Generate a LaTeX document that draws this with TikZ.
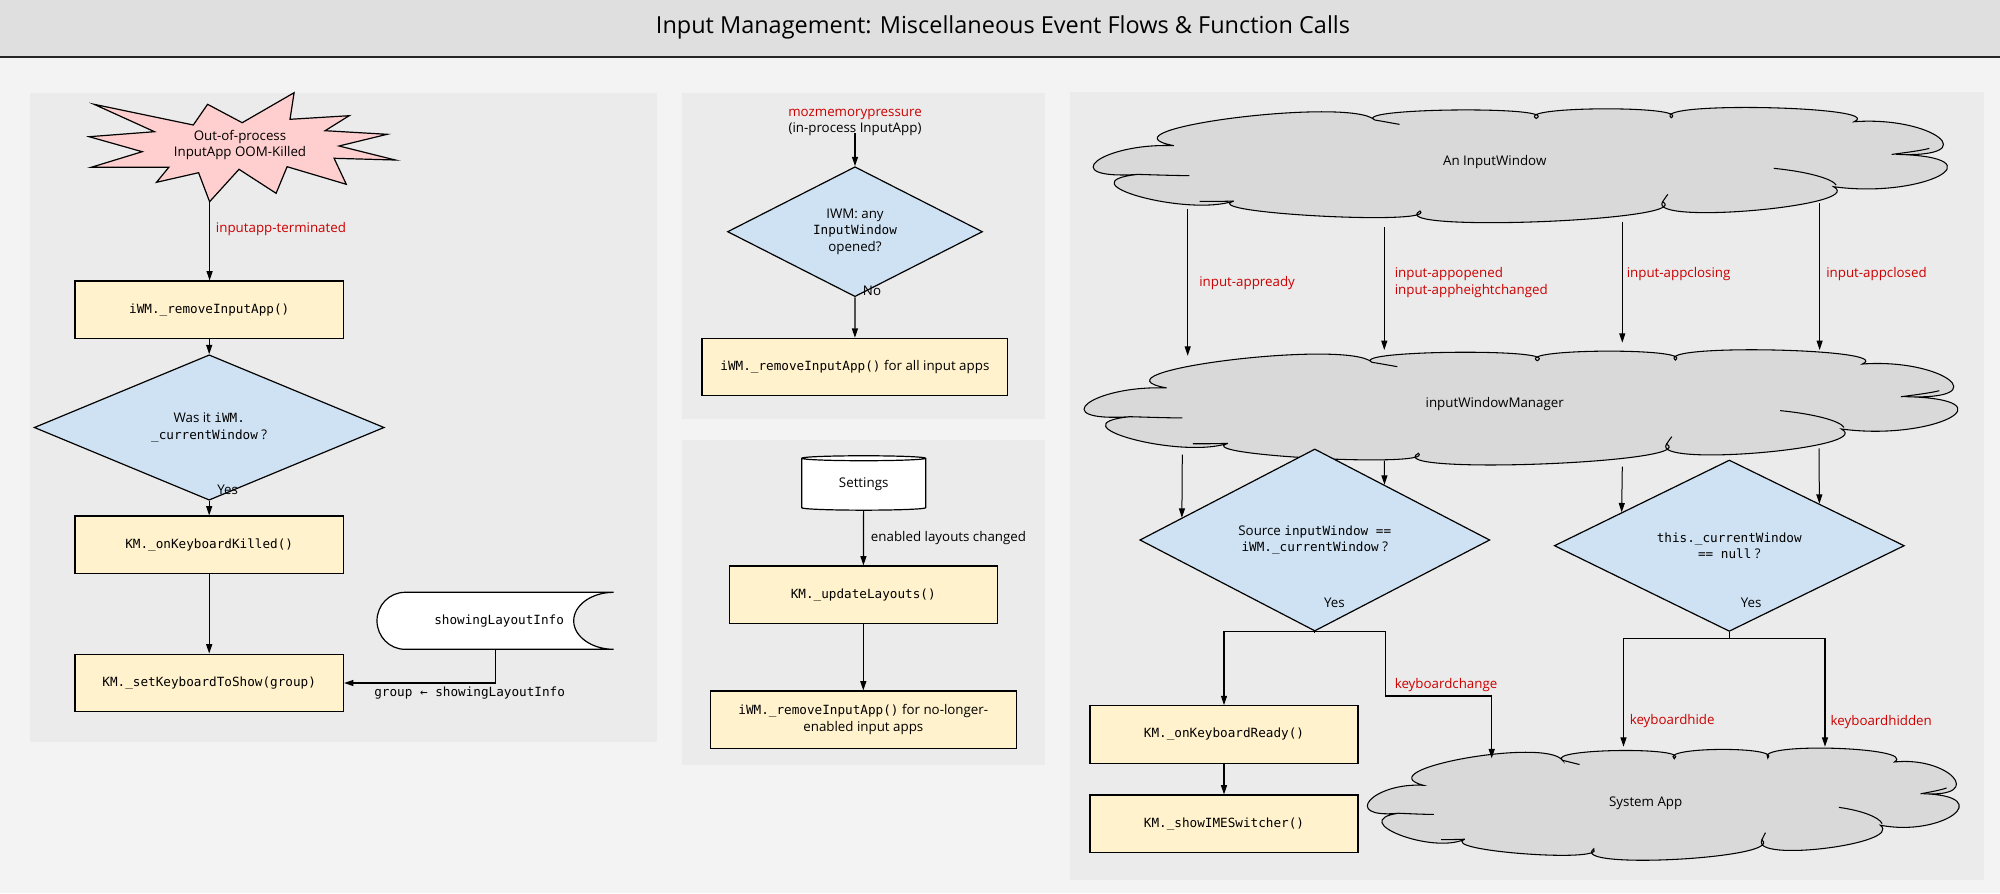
\documentclass[tikz,border=0pt]{standalone}
\usepackage{fontspec}
\setmainfont{Open Sans}
\setmonofont{DejaVu Sans Mono}
\usetikzlibrary{shapes.geometric,arrows.meta,calc}
\definecolor{pagebg}{HTML}{F3F3F3}
\definecolor{titlebg}{HTML}{DFDFDF}
\definecolor{panelbg}{HTML}{EBEBEB}
\definecolor{boxfill}{HTML}{FFF2CC}
\definecolor{decfill}{HTML}{CFE2F3}
\definecolor{starfill}{HTML}{FFCFCF}
\definecolor{cloudfill}{HTML}{D9D9D9}
\definecolor{evred}{HTML}{CC0000}
\newcommand\pxl[1]{#1*0.75pt}
\newcommand\mtt[1]{{\ttfamily\fontsize{9.5}{12}\selectfont #1}}
\newcommand\puff[3]{.. controls ($0.4833*(#1)+1.3333*(#2)-0.8167*(#3)$) and ($0.4833*(#3)+1.3333*(#2)-0.8167*(#1)$) .. (#3)}
\newcommand\cloudshape{(0.090,0.333)
  \puff{0.090,0.333}{0,0.468}{0.048,0.585}
  \puff{0.048,0.585}{0.05,0.78}{0.160,0.819}
  \puff{0.160,0.819}{0.26,0.95}{0.378,0.906}
  \puff{0.378,0.906}{0.518,1.0}{0.662,0.825}
  \puff{0.662,0.825}{0.77,0.90}{0.862,0.693}
  \puff{0.862,0.693}{0.985,0.60}{0.935,0.409}
  \puff{0.935,0.409}{0.985,0.26}{0.886,0.123}
  \puff{0.886,0.123}{0.785,0.0}{0.672,0.088}
  \puff{0.672,0.088}{0.592,0.01}{0.514,0.094}
  \puff{0.514,0.094}{0.42,0.02}{0.325,0.108}
  \puff{0.325,0.108}{0.16,0.09}{0.090,0.333} -- cycle}
\newcommand\cloudinner{(0.048,0.585) .. controls (0.07,0.59) and (0.09,0.595) .. (0.108,0.596)
  (0.792,0.532) .. controls (0.83,0.56) and (0.86,0.62) .. (0.865,0.678)
  (0.93,0.41) .. controls (0.95,0.39) and (0.965,0.375) .. (0.974,0.357)
  (0.325,0.108) .. controls (0.335,0.12) and (0.345,0.135) .. (0.354,0.146)
  (0.662,0.825) .. controls (0.664,0.80) and (0.666,0.78) .. (0.668,0.76)
  (0.160,0.819) .. controls (0.145,0.822) and (0.135,0.823) .. (0.12,0.822)}
\begin{document}
\begin{tikzpicture}[x=0.75pt,y=-0.75pt,
  every node/.style={font=\fontsize{10}{12.5}\selectfont, inner sep=0pt, text=black},
  fnbox/.style={rectangle, draw=black, fill=boxfill, line width=0.9pt, minimum height=\pxl{57.3}, align=center},
  decision/.style={diamond, draw=black, fill=decfill, line width=0.9pt, align=center},
  cloudline/.style={draw=black, fill=cloudfill, line width=0.8pt},
  cloudin/.style={draw=black, line width=0.8pt},
  arr/.style={draw=black, line width=0.9pt, -{Triangle[length=7pt,width=4.5pt]}},
  thinarr/.style={draw=black, line width=0.75pt, -{Triangle[length=7pt,width=4.5pt]}},
  conn/.style={draw=black, line width=0.9pt},
  evlab/.style={text=evred, anchor=west},
  plainlab/.style={anchor=west}]
\useasboundingbox (0,0) rectangle (2000,893);
\fill[pagebg] (0,0) rectangle (2000,893);
% title bar
\fill[titlebg] (0,0) rectangle (2000,57);
\draw[line width=1.2pt, color=black!85] (0,57) -- (2000,57);
\node[font=\fontsize{17.6}{21}\selectfont] (title) at (1003,27) {Input Management: Miscellaneous Event Flows \& Function Calls};
% panels
\fill[panelbg] (30,93) rectangle (657,742);
\fill[panelbg] (682,93) rectangle (1045,419);
\fill[panelbg] (682,440) rectangle (1045,765);
\fill[panelbg] (1070,92) rectangle (1984,880);

% ---------------- left panel
\draw[fill=starfill, line width=0.9pt] (94.1,104.3) -- (193.3,125) -- (207.6,104.3) -- (242.2,122.7) -- (294.1,92.7) -- (290,119.3) -- (349.2,115.7) -- (325.1,130.7) -- (387.1,134.3) -- (339,146) -- (395.3,160) -- (334.1,158.3) -- (346.3,184.3) -- (287.1,166.7) -- (276.1,193.3) -- (239,169.3) -- (209.6,201.7) -- (198.6,172.7) -- (156.5,182.3) -- (168.8,167.3) -- (91.2,167.3) -- (142.2,151.7) -- (89.2,136.7) -- (154.5,131.7) -- cycle;
\node[align=center] (star) at (240,145) {Out-of-process\\InputApp OOM-Killed};
\coordinate (startip) at (209.6,201.7);
\node[fnbox, minimum width=\pxl{268.6}] (r1) at (209.2,309.7) {\mtt{iWM.\_removeInputApp()}};
\draw[arr] (startip) -- (startip |- r1.north);
\node[evlab] (l1) at (215.7,229.3) {inputapp-terminated};
\node[decision, minimum width=\pxl{350}, minimum height=\pxl{98}] (d1) at (209.2,427.5) {Was it \mtt{iWM.}\\\mtt{\_currentWindow} ?};
\draw[arr] (r1) -- (d1);
\node[fnbox, minimum width=\pxl{268.6}] (r2) at (209.2,544.7) {\mtt{KM.\_onKeyboardKilled()}};
\draw[arr] (d1) -- (r2);
\node[plainlab] (y1) at (217,490) {Yes};
\node[fnbox, minimum width=\pxl{268.6}, minimum height=\pxl{57.7}] (r3) at (209.2,683) {\mtt{KM.\_setKeyboardToShow(group)}};
\draw[arr] (r2) -- (r3);
\draw[fill=white, line width=0.9pt] (405,592.3) -- (613.7,592.3) .. controls (591.7,592.3) and (573.7,605) .. (573.7,620.8) .. controls (573.7,636.5) and (591.7,649.3) .. (613.7,649.3) -- (405,649.3) .. controls (389.5,649.3) and (377,636.5) .. (377,620.8) .. controls (377,605) and (389.5,592.3) .. (405,592.3) -- cycle;
\node[minimum width=\pxl{236.7}, minimum height=\pxl{57}] (sli) at (495.3,620.8) {\mtt{\ showingLayoutInfo}};
\draw[arr] (sli.south) |- (r3.east);
\node[anchor=west] (grp) at (374,693.5) {\mtt{group ← showingLayoutInfo}};

% ---------------- middle top panel
\node[align=center] (mz) at (855,122.5) {\textcolor{evred}{mozmemorypressure}\\(in-process InputApp)};
\coordinate (mzs) at (855,133);
\node[decision, minimum width=\pxl{255}, minimum height=\pxl{97}] (dm) at (855,231.7) {IWM: any\\\mtt{InputWindow}\\opened?};
\draw[arr] (mzs) -- (dm.north);
\node[fnbox, minimum width=\pxl{305.7}] (rm1) at (854.9,367) {\mtt{iWM.\_removeInputApp()} for all input apps};
\draw[arr] (dm) -- (rm1);
\node[plainlab] (no) at (862.7,291) {No};

% ---------------- middle bottom panel
\node[cylinder, shape border rotate=90, aspect=0.1, draw=black, fill=white, line width=0.9pt, minimum width=\pxl{124}, minimum height=\pxl{54.4}] (set) at (863.7,484.5) {Settings};
\node[fnbox, minimum width=\pxl{268}] (rm2) at (863.3,594.7) {\mtt{KM.\_updateLayouts()}};
\draw[arr] (set) -- (rm2);
\node[plainlab] (elc) at (870.7,537.7) {enabled layouts changed};
\node[fnbox, minimum width=\pxl{306}] (rm3) at (863.3,719.7) {\mtt{iWM.\_removeInputApp()} for no-longer-\\enabled input apps};
\draw[arr] (rm2) -- (rm3);

% ---------------- right panel: clouds
\begin{scope}[shift={(1097,107.7)}, xscale=854.5, yscale=114]
  \draw[cloudline] \cloudshape;
  \draw[cloudin] \cloudinner;
\end{scope}
\node (c1) at (1494.7,162.3) {An InputWindow};
\begin{scope}[shift={(1088,350)}, xscale=874, yscale=114]
  \draw[cloudline] \cloudshape;
  \draw[cloudin] \cloudinner;
\end{scope}
\node (c2) at (1494.7,404) {inputWindowManager};
\begin{scope}[shift={(1370,748.3)}, xscale=592, yscale=111]
  \draw[cloudline] \cloudshape;
  \draw[cloudin] \cloudinner;
\end{scope}
\node (c3) at (1645.7,803.3) {System App};

\coordinate (a1s) at (1187.7,209.3); \coordinate (a1e) at (1187.7,355.7);
\coordinate (a2s) at (1384.3,227.3); \coordinate (a2e) at (1384.3,350);
\coordinate (a3s) at (1622.3,221.7); \coordinate (a3e) at (1622.3,342.7);
\coordinate (a4s) at (1819.6,203.3); \coordinate (a4e) at (1819.6,350);
\draw[thinarr] (a1s) -- (a1e);
\draw[thinarr] (a2s) -- (a2e);
\draw[thinarr] (a3s) -- (a3e);
\draw[thinarr] (a4s) -- (a4e);
\node[evlab] (e1) at (1199,283.3) {input-appready};
\node[evlab, align=left] (e2) at (1394.5,282.3) {input-appopened\\input-appheightchanged};
\node[evlab] (e3) at (1626.5,274) {input-appclosing};
\node[evlab] (e4) at (1826,274) {input-appclosed};

\node[decision, minimum width=\pxl{350}, minimum height=\pxl{97}] (dA) at (1314.8,540) {Source \mtt{inputWindow ==}\\\mtt{iWM.\_currentWindow} ?};
\node[decision, minimum width=\pxl{350}, minimum height=\pxl{97}] (dB) at (1729.3,545.7) {\mtt{this.\_currentWindow}\\\mtt{== null} ?};
\coordinate (b1s) at (1182.3,454.7); \coordinate (b2s) at (1384.3,460.7);
\coordinate (b3s) at (1622.3,466.7); \coordinate (b4s) at (1819,448.3);
\draw[thinarr] (b1s) -- ($(dA.west)!0.243!(dA.north)$);
\draw[thinarr] (b2s) -- ($(dA.north)!0.397!(dA.east)$);
\draw[thinarr] (b3s) -- ($(dB.west)!0.387!(dB.north)$);
\draw[thinarr] (b4s) -- ($(dB.north)!0.513!(dB.east)$);

\node[fnbox, minimum width=\pxl{268}, minimum height=\pxl{57.6}] (rK1) at (1224,734.5) {\mtt{KM.\_onKeyboardReady()}};
\node[fnbox, minimum width=\pxl{268}] (rK2) at (1224,823.7) {\mtt{KM.\_showIMESwitcher()}};
\draw[arr] (rK1) -- (rK2);

\coordinate (ja) at (1314.8,631.5);
\coordinate (kc1) at (1385.5,696);
\coordinate (kc2) at (1491.7,758.3);
\draw[conn] (dA.south) -- (ja);
\draw[arr] (ja) -| (rK1.north);
\draw[arr] (ja) -| (kc1) -| (kc2);
\node[evlab] (kbc) at (1394.5,685) {keyboardchange};
\node[plainlab] (yA) at (1323.8,602.3) {Yes};

\coordinate (jb) at (1729.3,638.3);
\coordinate (kh1) at (1623.5,746.7);
\coordinate (kh2) at (1825,746.7);
\draw[conn] (dB.south) -- (jb);
\draw[arr] (jb) -| (kh1);
\draw[arr] (jb) -| (kh2);
\node[evlab] (kbh) at (1629.5,721) {keyboardhide};
\node[evlab] (kbhn) at (1830.4,721.7) {keyboardhidden};
\node[plainlab] (yB) at (1740.5,602.3) {Yes};
\end{tikzpicture}
\end{document}
